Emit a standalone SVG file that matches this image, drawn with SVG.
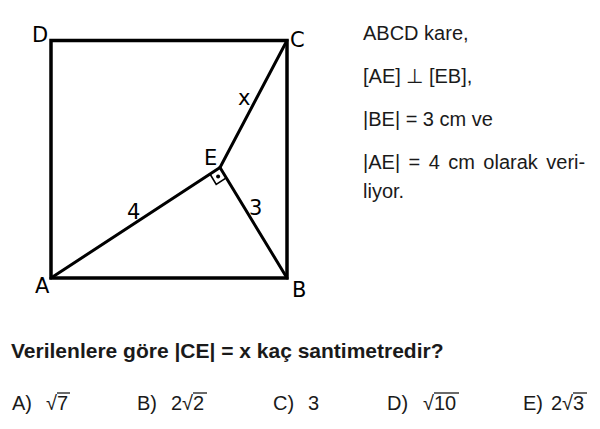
<svg xmlns="http://www.w3.org/2000/svg" width="600" height="429" viewBox="0 0 600 429">
<style>
.lbl{font-family:"DejaVu Sans",sans-serif;font-size:21px;fill:#000}
.txt{font-family:"Liberation Sans",Arial,sans-serif;font-size:20px;fill:#1a1a1a}
.q{font-family:"Liberation Sans",Arial,sans-serif;font-size:21px;font-weight:bold;fill:#1a1a1a}
.ans{font-family:"Liberation Sans",Arial,sans-serif;font-size:20px;fill:#1a1a1a}
.edge{stroke:#000;stroke-width:3;fill:none;stroke-linecap:round}
</style>
<rect width="600" height="429" fill="#fff"/>
<g id="square">
<rect x="51" y="40.5" width="236" height="237.5" fill="none" stroke="#000" stroke-width="3.5"/>
</g>
<g id="connectors">
<line class="edge" x1="51" y1="278" x2="220" y2="167.5"/>
<line class="edge" x1="220" y1="167.5" x2="287" y2="278"/>
<line class="edge" x1="220" y1="167.5" x2="287" y2="40.5"/>
<path d="M210 174 L216.2 184.4 L226.2 177.8" fill="none" stroke="#000" stroke-width="1.6"/>
<circle cx="218.1" cy="176.4" r="2" fill="#000"/>
</g>
<g id="node-D"><text class="lbl" x="32" y="42">D</text></g>
<g id="node-C"><text class="lbl" x="290" y="47">C</text></g>
<g id="node-A"><text class="lbl" x="35" y="293">A</text></g>
<g id="node-B"><text class="lbl" x="292" y="297">B</text></g>
<g id="node-E"><text class="lbl" x="204" y="165">E</text></g>
<g id="labels">
<text class="lbl" x="238" y="105">x</text>
<text class="lbl" x="127" y="219">4</text>
<text class="lbl" x="249" y="215">3</text>
</g>
<g id="given">
<text class="txt" x="363" y="40">ABCD kare,</text>
<text class="txt" x="363" y="83">[AE] ⊥ [EB],</text>
<text class="txt" x="363" y="126">|BE| = 3 cm ve</text>
<text class="txt" x="363" y="169" word-spacing="2.9">|AE| = 4 cm olarak veri-</text>
<text class="txt" x="363" y="198">liyor.</text>
</g>
<g id="question">
<text class="q" x="11" y="358">Verilenlere göre |CE| = x kaç santimetredir?</text>
</g>
<g id="answers">
<text class="ans" x="12" y="410">A)</text>
<text class="ans" x="46" y="410">√7</text>
<line x1="57" y1="393" x2="70" y2="393" stroke="#1a1a1a" stroke-width="1.3"/>
<text class="ans" x="137" y="410">B)</text>
<text class="ans" x="171" y="410">2√2</text>
<line x1="193" y1="393" x2="207" y2="393" stroke="#1a1a1a" stroke-width="1.3"/>
<text class="ans" x="273" y="410">C)</text>
<text class="ans" x="308" y="410">3</text>
<text class="ans" x="387" y="410">D)</text>
<text class="ans" x="423" y="410">√10</text>
<line x1="434" y1="393" x2="459" y2="393" stroke="#1a1a1a" stroke-width="1.3"/>
<text class="ans" x="523" y="410">E)</text>
<text class="ans" x="551" y="410">2√3</text>
<line x1="573" y1="393" x2="587" y2="393" stroke="#1a1a1a" stroke-width="1.3"/>
</g>
</svg>
